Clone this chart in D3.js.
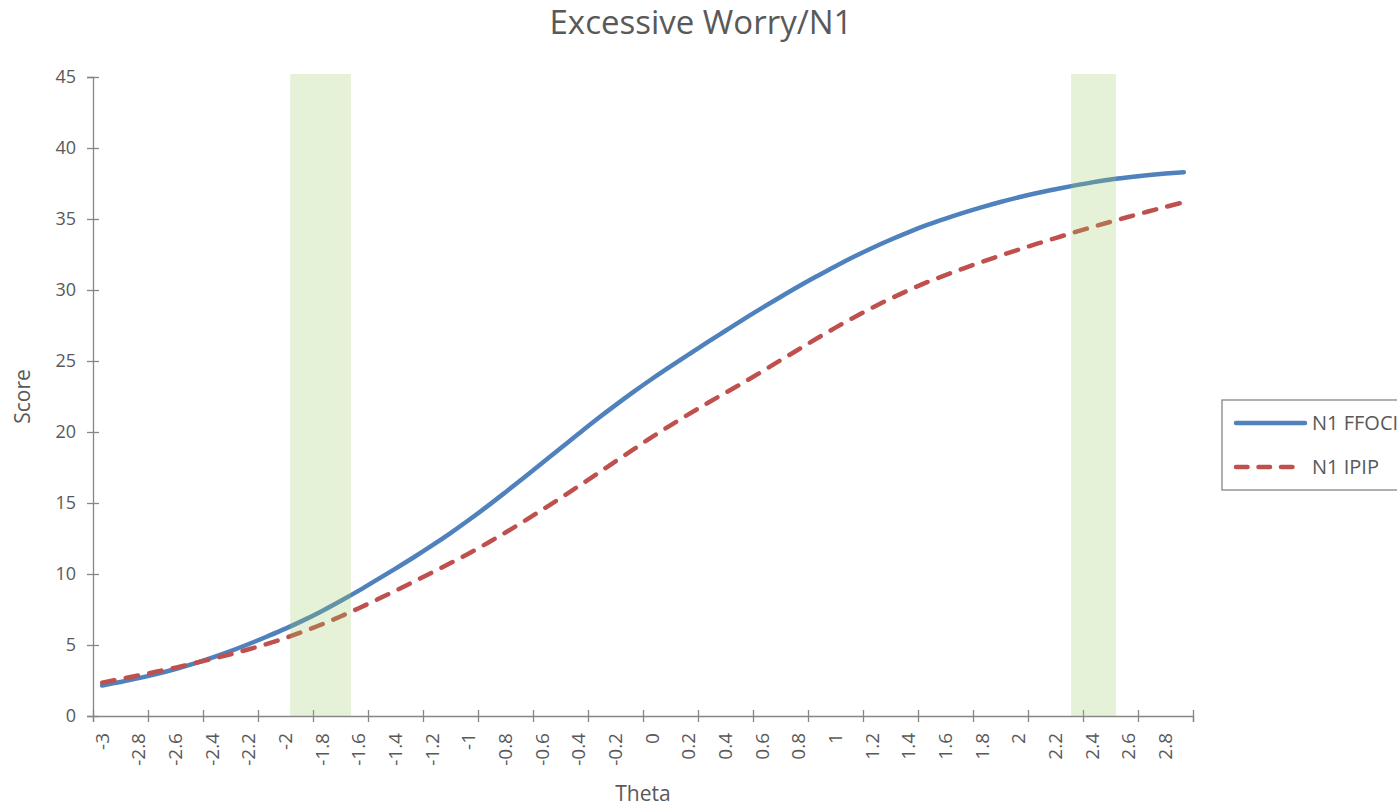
<!DOCTYPE html>
<html>
<head>
<meta charset="utf-8">
<script src="https://cdn.jsdelivr.net/npm/d3@7/dist/d3.min.js"></script>
<style>
  html, body { margin: 0; padding: 0; background: #fff; }
  svg { display: block; font-family: "Open Sans", "Noto Sans", sans-serif; }
</style>
</head>
<body>
<svg id="chart" width="1397" height="809"></svg>
<script>
// ---- data ----
const categories = [
  "-3","-2.9","-2.8","-2.7","-2.6","-2.5","-2.4","-2.3","-2.2","-2.1",
  "-2","-1.9","-1.8","-1.7","-1.6","-1.5","-1.4","-1.3","-1.2","-1.1",
  "-1","-0.9","-0.8","-0.7","-0.6","-0.5","-0.4","-0.3","-0.2","-0.1",
  "0","0.1","0.2","0.3","0.4","0.5","0.6","0.7","0.8","0.9",
  "1","1.1","1.2","1.3","1.4","1.5","1.6","1.7","1.8","1.9",
  "2","2.1","2.2","2.3","2.4","2.5","2.6","2.7","2.8","2.9"
];
const ffociValues = [
  2.15,2.40,2.67,2.97,3.31,3.69,4.11,4.57,5.07,5.60,
  6.15,6.75,7.40,8.10,8.83,9.60,10.38,11.18,12.01,12.88,
  13.80,14.76,15.76,16.78,17.81,18.85,19.89,20.91,21.89,22.84,
  23.75,24.62,25.47,26.31,27.13,27.95,28.74,29.51,30.26,30.98,
  31.68,32.34,32.96,33.54,34.08,34.58,35.03,35.45,35.84,36.20,
  36.53,36.83,37.10,37.35,37.58,37.78,37.94,38.08,38.20,38.30
];
const ipipValues = [
  2.35,2.60,2.86,3.13,3.41,3.71,4.02,4.35,4.70,5.08,
  5.50,5.96,6.46,7.01,7.59,8.20,8.82,9.46,10.11,10.77,
  11.45,12.17,12.92,13.71,14.52,15.35,16.20,17.06,17.93,18.79,
  19.65,20.47,21.26,22.02,22.76,23.50,24.27,25.05,25.83,26.60,
  27.35,28.07,28.75,29.39,29.99,30.55,31.05,31.53,31.99,32.43,
  32.85,33.26,33.66,34.05,34.43,34.80,35.16,35.51,35.85,36.18
];
const seriesNames = ["N1 FFOCI", "N1 IPIP"];
const tickLabels = [
  "-3","-2.8","-2.6","-2.4","-2.2","-2","-1.8","-1.6","-1.4","-1.2",
  "-1","-0.8","-0.6","-0.4","-0.2","0","0.2","0.4","0.6","0.8",
  "1","1.2","1.4","1.6","1.8","2","2.2","2.4","2.6","2.8"
];
const yTicks = [0,5,10,15,20,25,30,35,40,45];
// highlighted theta ranges (start, end)
const bandStarts = [-1.975, 2.285];
const bandEnds = [-1.643, 2.53];

// ---- layout ----
const svg = d3.select("#chart");
const L = 93, R = 1193, T = 77, B = 716;
const textColor = "#595959";
const axisColor = "#868686";

const x = d3.scaleBand().domain(categories).range([L, R]).padding(0);
const bw = x.bandwidth();
const xTheta = d3.scaleLinear().domain([-3.05, 2.95]).range([L, R]);
const xIdx = d3.scaleLinear().domain([0, categories.length]).range([L, R]);
const y = d3.scaleLinear().domain([0, 45]).range([B, T]);

// title
svg.append("text").attr("x", 701).attr("y", 34)
  .attr("text-anchor", "middle").attr("font-size", 33).attr("fill", textColor)
  .text("Excessive Worry/N1");

// y axis
const yAxis = svg.append("g").attr("transform", `translate(${L},0)`)
  .call(d3.axisLeft(y).tickValues(yTicks).tickSize(6).tickPadding(10));
yAxis.select(".domain").attr("stroke", axisColor).attr("stroke-width", 1.3);
yAxis.selectAll(".tick line").attr("stroke", axisColor).attr("stroke-width", 1.3).attr("x1", 6).attr("x2", -6);
yAxis.selectAll(".tick text").attr("fill", textColor).attr("font-size", 18)
  .attr("font-family", '"Open Sans", sans-serif').attr("x", -17);

// x axis line & ticks
const xAxis = svg.append("g").attr("transform", `translate(0,${B})`)
  .call(d3.axisBottom(xIdx).tickValues(d3.range(0, categories.length + 1, 3)).tickSize(6).tickFormat(""));
xAxis.select(".domain").attr("stroke", axisColor).attr("stroke-width", 1.3);
xAxis.selectAll(".tick line").attr("stroke", axisColor).attr("stroke-width", 1.3).attr("y1", -6).attr("y2", 6);

// x labels
svg.append("g").selectAll("text").data(tickLabels).join("text")
  .attr("transform", d => `translate(${x(d) + bw / 2},${B + 17}) rotate(-90)`)
  .attr("text-anchor", "end").attr("dy", "0.35em")
  .attr("font-size", 19).attr("fill", textColor)
  .text(d => d);

// axis titles
svg.append("text").attr("x", (L + R) / 2).attr("y", 801)
  .attr("text-anchor", "middle").attr("font-size", 21).attr("fill", textColor).text("Theta");
svg.append("text").attr("transform", `translate(30,${(T + B) / 2}) rotate(-90)`)
  .attr("text-anchor", "middle").attr("font-size", 21).attr("fill", textColor).text("Score");

// lines
const line = d3.line().x((d, i) => x(categories[i]) + bw / 2).y(d => y(d)).curve(d3.curveCatmullRom.alpha(0.5));
svg.append("path").datum(ffociValues).attr("d", line)
  .attr("fill", "none").attr("stroke", "#4F81BD").attr("stroke-width", 4.5)
  .attr("stroke-linecap", "round").attr("stroke-linejoin", "round");
svg.append("path").datum(ipipValues).attr("d", line)
  .attr("fill", "none").attr("stroke", "#C0504D").attr("stroke-width", 4.5)
  .attr("stroke-dasharray", "12.5,11.5").attr("stroke-linecap", "round");

// highlight bands (drawn over lines, translucent)
svg.append("g").selectAll("rect").data(bandStarts).join("rect")
  .attr("x", d => xTheta(d))
  .attr("width", (d, i) => xTheta(bandEnds[i]) - xTheta(d))
  .attr("y", 74).attr("height", B - 74)
  .attr("fill", "#9bcd64").attr("fill-opacity", 0.25);

// legend
const lg = svg.append("g");
lg.append("rect").attr("x", 1222).attr("y", 400).attr("width", 220).attr("height", 90)
  .attr("fill", "#fff").attr("stroke", axisColor).attr("stroke-width", 1.3);
lg.append("line").attr("x1", 1236).attr("x2", 1305).attr("y1", 423).attr("y2", 423)
  .attr("stroke", "#4F81BD").attr("stroke-width", 4.5).attr("stroke-linecap", "round");
lg.append("line").attr("x1", 1236).attr("x2", 1300).attr("y1", 467).attr("y2", 467)
  .attr("stroke", "#C0504D").attr("stroke-width", 4.5).attr("stroke-dasharray", "11.5,11").attr("stroke-linecap", "round");
lg.selectAll("text.lt").data(seriesNames).join("text").attr("class", "lt")
  .attr("x", 1312).attr("y", (d, i) => 423 + i * 44).attr("dy", "0.35em")
  .attr("font-size", 20).attr("fill", textColor).text(d => d);
</script>
</body>
</html>
